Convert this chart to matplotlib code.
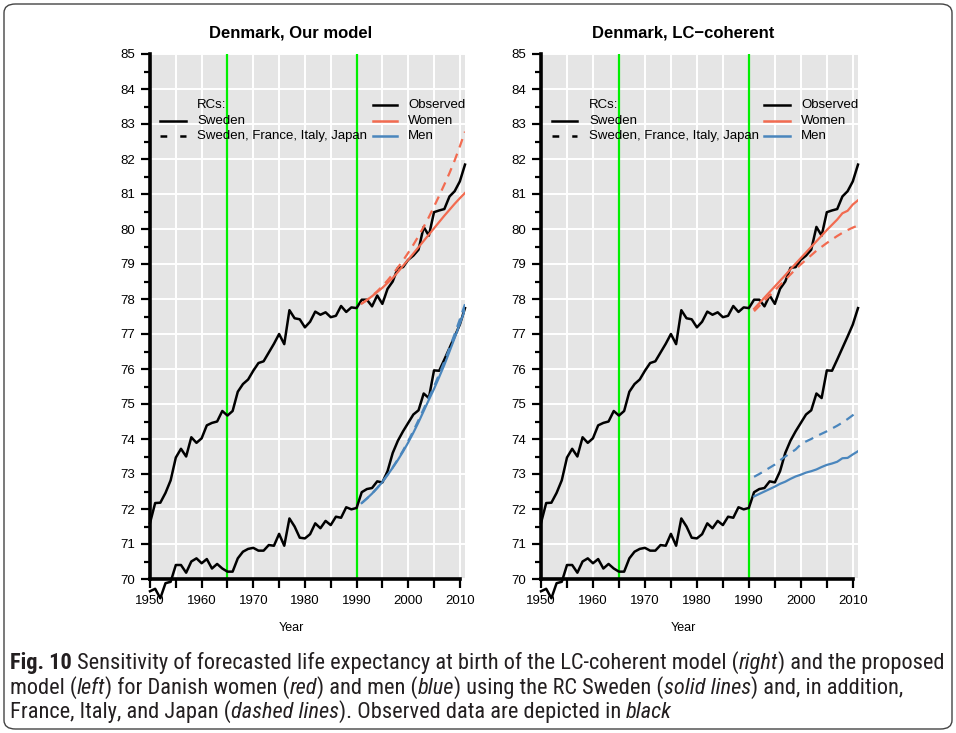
import matplotlib
matplotlib.use("Agg")
import matplotlib.pyplot as plt
from matplotlib.lines import Line2D
from matplotlib.patches import FancyBboxPatch
from matplotlib import font_manager

# ---------------- data ----------------
years_obs = list(range(1950, 2012))
women_obs = [71.60, 72.17, 72.18, 72.46, 72.82, 73.47, 73.72, 73.50, 74.05, 73.89,
             74.02, 74.39, 74.46, 74.50, 74.80, 74.67, 74.80, 75.35, 75.57, 75.70,
             75.95, 76.17, 76.22, 76.47, 76.72, 77.00, 76.71, 77.68, 77.45, 77.42,
             77.19, 77.35, 77.64, 77.55, 77.62, 77.48, 77.52, 77.80, 77.63, 77.76,
             77.74, 77.98, 77.98, 77.79, 78.10, 77.86, 78.29, 78.50, 78.89, 78.91,
             79.12, 79.24, 79.41, 80.06, 79.81, 80.48, 80.53, 80.57, 80.93, 81.08,
             81.36, 81.84]
men_obs = [69.65, 69.72, 69.45, 69.88, 69.92, 70.40, 70.40, 70.18, 70.50, 70.59,
           70.45, 70.57, 70.30, 70.43, 70.30, 70.21, 70.21, 70.59, 70.78, 70.86,
           70.89, 70.81, 70.81, 70.97, 70.95, 71.29, 70.95, 71.73, 71.50, 71.18,
           71.16, 71.28, 71.59, 71.45, 71.66, 71.54, 71.78, 71.75, 72.05, 71.99,
           72.03, 72.48, 72.57, 72.60, 72.79, 72.76, 73.08, 73.60, 73.95, 74.22,
           74.46, 74.70, 74.82, 75.30, 75.17, 75.96, 75.95, 76.27, 76.60, 76.93,
           77.27, 77.74]

years_fc = list(range(1991, 2012))
# Our model
our_women_swe = [77.87, 77.97, 78.08, 78.20, 78.32, 78.46, 78.60, 78.77, 78.95, 79.12,
                 79.30, 79.48, 79.66, 79.84, 80.02, 80.20, 80.38, 80.55, 80.72, 80.88, 81.03]
our_women_all = [77.87, 77.97, 78.09, 78.22, 78.37, 78.53, 78.71, 78.90, 79.10, 79.32,
                 79.55, 79.80, 80.06, 80.34, 80.64, 80.95, 81.27, 81.60, 81.96, 82.36, 82.78]
our_men_swe = [72.17, 72.30, 72.44, 72.60, 72.77, 72.97, 73.18, 73.40, 73.64, 73.90,
               74.18, 74.48, 74.80, 75.12, 75.43, 75.77, 76.12, 76.50, 76.89, 77.29, 77.70]
our_men_all = [72.17, 72.30, 72.44, 72.60, 72.78, 72.98, 73.19, 73.42, 73.67, 73.94,
               74.23, 74.54, 74.86, 75.18, 75.50, 75.85, 76.21, 76.60, 77.00, 77.42, 77.85]
# LC-coherent
lc_women_swe = [77.72, 77.88, 78.04, 78.20, 78.36, 78.52, 78.68, 78.85, 79.01, 79.17,
                79.33, 79.49, 79.65, 79.81, 79.97, 80.12, 80.27, 80.45, 80.52, 80.70, 80.82]
lc_women_all = [77.65, 77.80, 77.95, 78.10, 78.25, 78.40, 78.55, 78.70, 78.85, 78.99,
                79.12, 79.25, 79.38, 79.49, 79.60, 79.70, 79.80, 79.89, 79.97, 80.04, 80.10]
lc_men_swe = [72.36, 72.43, 72.50, 72.57, 72.64, 72.72, 72.78, 72.86, 72.93, 72.98,
              73.04, 73.08, 73.13, 73.20, 73.26, 73.30, 73.35, 73.45, 73.46, 73.56, 73.65]
lc_men_all = [72.92, 73.00, 73.09, 73.18, 73.27, 73.39, 73.50, 73.60, 73.70, 73.85,
              73.93, 74.00, 74.08, 74.15, 74.22, 74.30, 74.38, 74.47, 74.57, 74.68, 74.78]

titles = ["Denmark, Our model", "Denmark, LC\u2212coherent"]
x_ticks = [1950, 1960, 1970, 1980, 1990, 2000, 2010]
y_ticks = list(range(70, 86))
vlines = [1965, 1990]
legend_rc = ["RCs:", "Sweden", "Sweden, France, Italy, Japan"]
legend_sex = ["Observed", "Women", "Men"]

# ---------------- style ----------------
W, H = 956, 733
RED = "#F26B50"
BLUE = "#4A86BD"
GREEN = "#00F000"
BG = "#E5E5E5"
FONT = "Liberation Sans"

ttf = font_manager.fontManager.ttflist
names = {f.name for f in ttf}
cap_family, cap_stretch = "DejaVu Sans", "normal"
for cand in ["Liberation Sans Narrow", "Roboto Condensed", "Open Sans Condensed",
             "Noto Sans Condensed"]:
    if cand in names:
        cap_family = cand
        break
else:
    for f in ttf:
        if "condensed" in str(f.stretch).lower() or (
                isinstance(f.stretch, int) and f.stretch < 500):
            cap_family, cap_stretch = f.name, "condensed"
            break

plt.rcParams["font.family"] = [FONT, "DejaVu Sans"]
fig = plt.figure(figsize=(W / 100, H / 100), dpi=100)


def fx(x):
    return x / W


def fy(y):
    return 1 - y / H


panels = [
    dict(left=150, right=465, title_x=291,
         data=(our_women_swe, our_women_all, our_men_swe, our_men_all),
         leg1=(160, 186, 197), leg2=(373, 397, 408)),
    dict(left=541, right=858, title_x=683,
         data=(lc_women_swe, lc_women_all, lc_men_swe, lc_men_all),
         leg1=(552, 577, 589), leg2=(764, 790, 801)),
]

top_px, bot_px = 54, 579
rows = [105, 120.5, 136]
for p, title in zip(panels, titles):
    ax = fig.add_axes([fx(p["left"]), fy(bot_px), (p["right"] - p["left"]) / W,
                       (bot_px - top_px) / H])
    ax.set_facecolor(BG)
    ax.set_xlim(1950, 2011)
    ax.set_ylim(70, 85)
    for yv in y_ticks:
        ax.axhline(yv, color="white", lw=1.4, zorder=0.5)
    for xv in range(1950, 2011, 5):
        ax.axvline(xv, color="white", lw=1.4, zorder=0.5)
    for xv in vlines:
        ax.axvline(xv, color=GREEN, lw=1.6, zorder=1)
    ax.plot(years_obs, women_obs, color="black", lw=1.8, zorder=3, clip_on=False,
            solid_joinstyle="round")
    ax.plot(years_obs, men_obs, color="black", lw=1.8, zorder=3, clip_on=False,
            solid_joinstyle="round")
    w_s, w_a, m_s, m_a = p["data"]
    ax.plot(years_fc, w_s, color=RED, lw=1.6, zorder=4)
    ax.plot(years_fc, w_a, color=RED, lw=1.6, zorder=4, dashes=(4, 3))
    ax.plot(years_fc, m_s, color=BLUE, lw=1.6, zorder=4)
    ax.plot(years_fc, m_a, color=BLUE, lw=1.6, zorder=4, dashes=(4, 3))

    for s in ["top", "right"]:
        ax.spines[s].set_visible(False)
    ax.spines["left"].set_linewidth(2.6)
    ax.spines["bottom"].set_linewidth(2.6)
    ax.spines["left"].set_bounds(70, 85)
    ax.spines["bottom"].set_bounds(1950, 2010)
    ax.set_xticks(x_ticks)
    ax.set_xticks(list(range(1955, 2010, 10)), minor=True)
    ax.set_yticks(y_ticks)
    ax.set_yticks([v + 0.5 for v in y_ticks[:-1]], minor=True)
    ax.tick_params(axis="both", which="major", length=6.5, width=1.6,
                   labelsize=9.5, direction="out")
    ax.tick_params(axis="y", which="major", pad=4)
    ax.tick_params(axis="x", which="major", pad=5)
    ax.tick_params(axis="x", which="minor", length=6.5, width=1.6)
    ax.tick_params(axis="y", which="minor", length=4.0, width=1.6)

    fig.text(fx(p["title_x"]), fy(33), title, ha="center", va="center",
             fontsize=12, fontweight="bold")
    fig.text(fx(p["title_x"]), fy(628), "Year", ha="center", va="center",
             fontsize=9)

    # legends
    a, b, tx = p["leg1"]
    for i, lab in enumerate(legend_rc):
        fig.text(fx(tx), fy(rows[i]), lab, ha="left", va="center", fontsize=9.5)
    fig.add_artist(Line2D([fx(a), fx(b)], [fy(rows[1])] * 2, color="black", lw=1.8,
                          transform=fig.transFigure))
    fig.add_artist(Line2D([fx(a), fx(b)], [fy(rows[2])] * 2, color="black", lw=1.8,
                          dashes=(2.7, 5.2), transform=fig.transFigure))
    a, b, tx = p["leg2"]
    for i, (lab, col) in enumerate(zip(legend_sex, ["black", RED, BLUE])):
        fig.text(fx(tx), fy(rows[i]), lab, ha="left", va="center", fontsize=9.5)
        fig.add_artist(Line2D([fx(a), fx(b)], [fy(rows[i])] * 2, color=col, lw=1.8,
                              transform=fig.transFigure))

# ---------------- caption ----------------
caption = [
    [("Fig. 10", "bold", "normal"),
     (" Sensitivity of forecasted life expectancy at birth of the LC-coherent model (", "normal", "normal"),
     ("right", "normal", "italic"), (") and the proposed", "normal", "normal")],
    [("model (", "normal", "normal"), ("left", "normal", "italic"),
     (") for Danish women (", "normal", "normal"), ("red", "normal", "italic"),
     (") and men (", "normal", "normal"), ("blue", "normal", "italic"),
     (") using the RC Sweden (", "normal", "normal"), ("solid lines", "normal", "italic"),
     (") and, in addition,", "normal", "normal")],
    [("France, Italy, and Japan (", "normal", "normal"), ("dashed lines", "normal", "italic"),
     ("). Observed data are depicted in ", "normal", "normal"), ("black", "normal", "italic")],
]
cap_rows = [663, 688, 712]
renderer = fig.canvas.get_renderer()


def place_line(parts, y, size, draw=True):
    x = 10.0
    made = []
    for txt, wt, st in parts:
        t = fig.text(fx(x), fy(y), txt, ha="left", va="center", fontsize=size,
                     fontweight=wt, fontstyle=st, family=[cap_family, "DejaVu Sans"],
                     fontstretch=cap_stretch, color="#231F20")
        bb = t.get_window_extent(renderer)
        x += bb.width
        made.append(t)
    if not draw:
        for t in made:
            t.remove()
    return x


size = 13.0
end = place_line(caption[0], cap_rows[0], size, draw=False)
size = min(17.0, size * (938 - 10) / (end - 10))
for parts, y in zip(caption, cap_rows):
    place_line(parts, y, size)

# border
box = FancyBboxPatch((fx(4), fy(729)), fx(948), 725 / H,
                     boxstyle="round,pad=0,rounding_size=0.012",
                     transform=fig.transFigure, fill=False, ec="#444444", lw=1.0)
fig.add_artist(box)

fig.savefig("out.png", dpi=100)
